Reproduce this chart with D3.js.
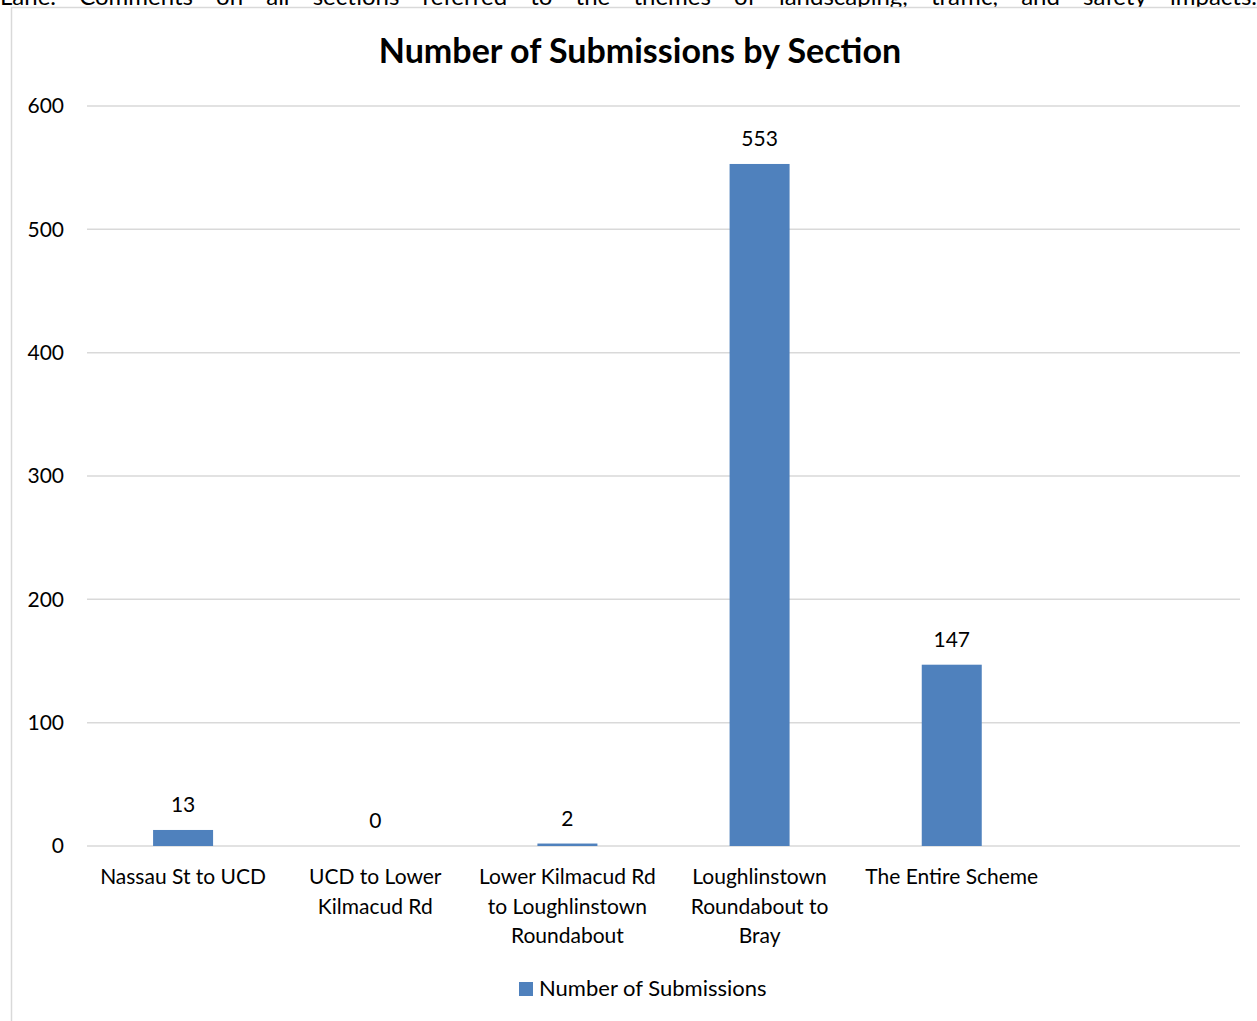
<!DOCTYPE html>
<html>
<head>
<meta charset="utf-8">
<script src="https://cdn.jsdelivr.net/npm/d3@7"></script>
<style>
  body { margin: 0; background: #fff; overflow: hidden; }
  svg { display: block; font-family: Lato, "Open Sans", sans-serif; }
</style>
</head>
<body>
<svg id="chart" width="1257" height="1021"></svg>
<script>
// data
const sections = ["Nassau St to UCD", "UCD to Lower Kilmacud Rd",
  "Lower Kilmacud Rd to Loughlinstown Roundabout",
  "Loughlinstown Roundabout to Bray", "The Entire Scheme", ""];
const sectionLines = [
  ["Nassau St to UCD"],
  ["UCD to Lower", "Kilmacud Rd"],
  ["Lower Kilmacud Rd", "to Loughlinstown", "Roundabout"],
  ["Loughlinstown", "Roundabout to", "Bray"],
  ["The Entire Scheme"],
  []
];
const submissions = [13, 0, 2, 553, 147, null];
const yTicks = [0, 100, 200, 300, 400, 500, 600];
const seriesName = "Number of Submissions";
const title = "Number of Submissions by Section";
const bodyText = "Lane. Comments on all sections referred to the themes of landscaping, traffic, and safety impacts.";

const svg = d3.select("#chart");
const barColor = "#4f81bd";
const fs = 21;

// cut-off paragraph text above the chart, justified across the page
let words = bodyText.split(" ");
let wg = svg.append("g").attr("font-size", 24).attr("fill", "#000");
let wTexts = wg.selectAll("text").data(words).enter().append("text")
  .attr("y", 5)
  .text(d => d);
let widths = [];
wTexts.each(function() { widths.push(this.getComputedTextLength()); });
let gap = (1257 - d3.sum(widths)) / (words.length - 1);
let xpos = 0;
wTexts.attr("x", (d, i) => { let x = xpos; xpos += widths[i] + gap; return x; });

// chart border
svg.append("rect")
  .attr("x", 11.5).attr("y", 7.5)
  .attr("width", 1300).attr("height", 1100)
  .attr("fill", "#fff").attr("stroke", "#d9d9d9").attr("stroke-width", 1.5);

// scales
let x = d3.scaleBand().domain(sections).range([87, 1240]);
let y = d3.scaleLinear().domain([0, 600]).range([846, 106]);
let barW = 60;

// gridlines
svg.append("g").selectAll("line").data(yTicks).enter().append("line")
  .attr("x1", 87).attr("x2", 1240)
  .attr("y1", d => y(d)).attr("y2", d => y(d))
  .attr("stroke", "#d9d9d9").attr("stroke-width", 1.5);

// y axis labels
let yAxis = d3.axisLeft(y).tickValues(yTicks).tickSize(0).tickPadding(0);
svg.append("g")
  .attr("transform", "translate(64,0)")
  .call(yAxis)
  .call(g => g.select(".domain").remove())
  .selectAll("text")
  .attr("font-family", "Lato, 'Open Sans', sans-serif")
  .attr("font-size", fs).attr("fill", "#000");

// bars
let data = sections.map((s, i) => ({ s: s, v: submissions[i] })).filter(d => d.v != null);
svg.append("g").selectAll("rect").data(data).enter().append("rect")
  .attr("x", d => x(d.s) + x.bandwidth() / 2 - barW / 2)
  .attr("width", barW)
  .attr("y", d => y(d.v))
  .attr("height", d => y(0) - y(d.v))
  .attr("fill", barColor);

// value labels
svg.append("g").selectAll("text").data(data).enter().append("text")
  .attr("x", d => x(d.s) + x.bandwidth() / 2)
  .attr("y", d => y(d.v) - 18)
  .attr("text-anchor", "middle")
  .attr("font-size", fs).attr("fill", "#000")
  .text(d => d.v);

// category labels
let catG = svg.append("g").selectAll("text").data(sections).enter().append("text")
  .attr("text-anchor", "middle")
  .attr("font-size", fs).attr("fill", "#000");
catG.each(function(d, i) {
  d3.select(this).selectAll("tspan").data(sectionLines[i]).enter().append("tspan")
    .attr("x", x(d) + x.bandwidth() / 2)
    .attr("y", (l, j) => 884 + j * 29.5)
    .text(l => l);
});

// title
svg.append("text")
  .attr("x", 640).attr("y", 63)
  .attr("text-anchor", "middle")
  .attr("font-size", 34).attr("font-weight", "bold").attr("fill", "#000")
  .text(title);

// legend
svg.append("rect").attr("x", 519).attr("y", 982).attr("width", 14).attr("height", 14).attr("fill", barColor);
svg.append("text").attr("x", 539).attr("y", 996)
  .attr("font-size", 22).attr("fill", "#000")
  .text(seriesName);
</script>
</body>
</html>
